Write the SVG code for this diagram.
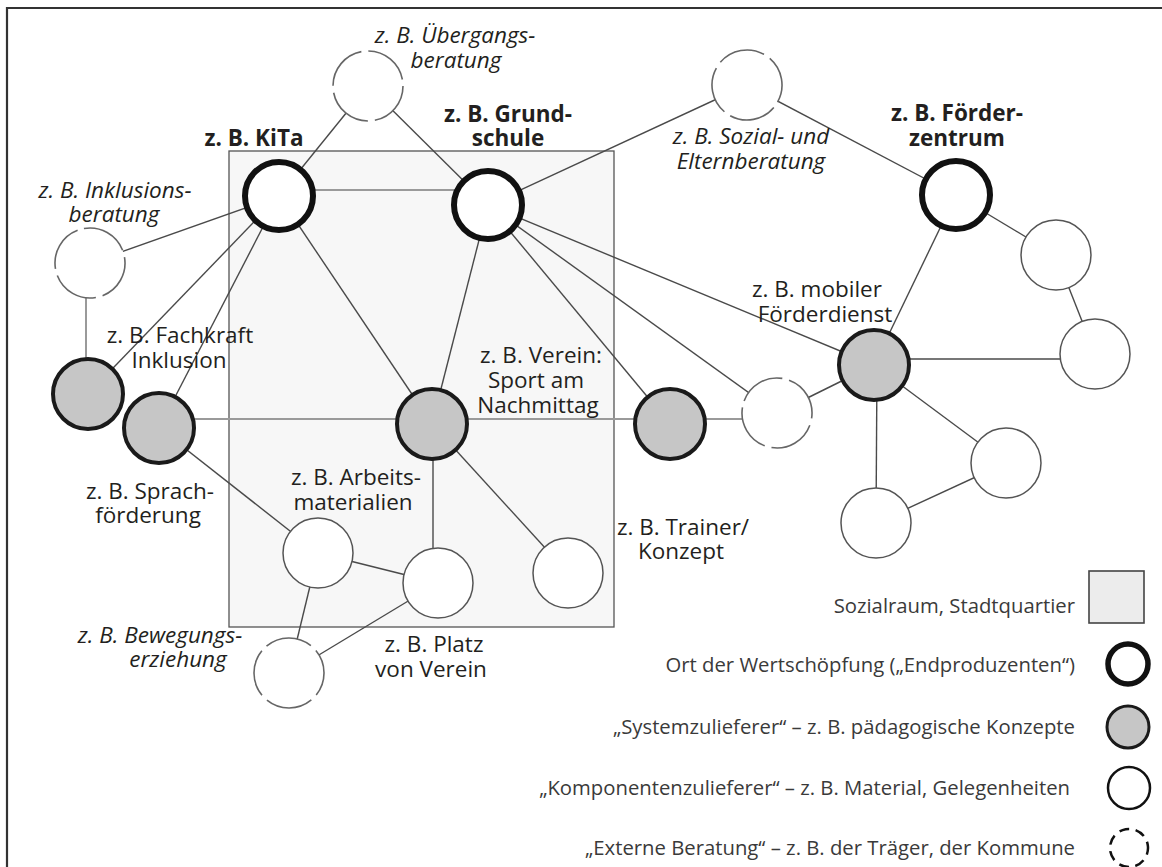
<svg xmlns="http://www.w3.org/2000/svg" width="1162" height="867" viewBox="0 0 1162 867">
  <style>
    text { font-family: "Open Sans", "Noto Sans", "Liberation Sans", sans-serif; fill: #231f20; }
    .lbl { font-size: 22.5px; text-anchor: middle; }
    .it { font-style: italic; }
    .bd { font-weight: bold; }
    .leg { font-size: 20.3px; text-anchor: end; fill: #3a3a3a; }
    .edge { stroke: #4a4a4a; stroke-width: 1.4; fill: none; }
    .edge-lt { stroke: #9a9a9a; stroke-width: 2; fill: none; }
    .endp { fill: #fff; stroke: #111; stroke-width: 6; }
    .sys { fill: #c6c6c6; stroke: #1a1a1a; stroke-width: 4; }
    .comp { fill: #fff; stroke: #555; stroke-width: 1.5; }
    .ext { fill: #fff; stroke: #666; stroke-width: 1.6; stroke-dasharray: 48 7; }
  </style>

  <!-- frame -->
  <path d="M7,867 V8 H1162" fill="none" stroke="#333" stroke-width="2.2"/>

  <!-- social space / district -->
  <rect id="sozialraum" x="229" y="151" width="385" height="476" fill="#f7f7f7" stroke="#555" stroke-width="1.3"/>

  <!-- connectors -->
  <g id="connectors">
    <line class="edge" x1="368" y1="86" x2="279" y2="196"/>
    <line class="edge" x1="368" y1="86" x2="488" y2="205"/>
    <line class="edge-lt" x1="279" y1="190" x2="488" y2="190"/>
    <line class="edge" x1="488" y1="205" x2="747" y2="85"/>
    <line class="edge" x1="747" y1="85" x2="956" y2="195"/>
    <line class="edge" x1="90" y1="263" x2="279" y2="196"/>
    <line class="edge-lt" x1="86" y1="263" x2="86" y2="394"/>
    <line class="edge" x1="88" y1="394" x2="279" y2="196"/>
    <line class="edge" x1="159" y1="428" x2="279" y2="196"/>
    <line class="edge" x1="279" y1="196" x2="432" y2="424"/>
    <line class="edge-lt" x1="159" y1="419" x2="432" y2="419"/>
    <line class="edge" x1="159" y1="428" x2="318" y2="553"/>
    <line class="edge" x1="488" y1="205" x2="432" y2="424"/>
    <line class="edge" x1="488" y1="205" x2="670" y2="424"/>
    <line class="edge" x1="488" y1="205" x2="777" y2="413"/>
    <line class="edge" x1="488" y1="205" x2="874" y2="365"/>
    <line class="edge-lt" x1="432" y1="419" x2="777" y2="419"/>
    <line class="edge" x1="777" y1="413" x2="874" y2="365"/>
    <line class="edge" x1="956" y1="195" x2="874" y2="365"/>
    <line class="edge" x1="956" y1="195" x2="1056" y2="255"/>
    <line class="edge" x1="1056" y1="255" x2="1095" y2="354"/>
    <line class="edge" x1="874" y1="359" x2="1095" y2="359"/>
    <line class="edge" x1="874" y1="365" x2="1006" y2="463"/>
    <line class="edge" x1="877" y1="365" x2="876" y2="523"/>
    <line class="edge" x1="876" y1="523" x2="1006" y2="463"/>
    <line class="edge" x1="433" y1="424" x2="433" y2="583"/>
    <line class="edge" x1="432" y1="424" x2="568" y2="573"/>
    <line class="edge" x1="318" y1="553" x2="438" y2="583"/>
    <line class="edge" x1="318" y1="553" x2="289" y2="673"/>
    <line class="edge" x1="438" y1="583" x2="289" y2="673"/>
  </g>

  <!-- end producers -->
  <g id="kita"><circle class="endp" cx="279" cy="196" r="34"/>
    <text class="lbl bd" x="254" y="146">z. B. KiTa</text></g>
  <g id="grundschule"><circle class="endp" cx="488" cy="205" r="34"/>
    <text class="lbl bd" x="508" y="122">z. B. Grund-</text>
    <text class="lbl bd" x="508" y="146">schule</text></g>
  <g id="foerderzentrum"><circle class="endp" cx="956" cy="195" r="34"/>
    <text class="lbl bd" x="957" y="121">z. B. Förder-</text>
    <text class="lbl bd" x="957" y="146">zentrum</text></g>

  <!-- external counselling -->
  <g id="uebergangsberatung"><circle class="ext" cx="368" cy="86" r="35"/>
    <text class="lbl it" x="455" y="43">z. B. Übergangs-</text>
    <text class="lbl it" x="456" y="68">beratung</text></g>
  <g id="elternberatung"><circle class="ext" cx="747" cy="85" r="35" transform="rotate(40 747 85)"/>
    <text class="lbl it" x="751" y="144">z. B. Sozial- und</text>
    <text class="lbl it" x="751" y="169">Elternberatung</text></g>
  <g id="inklusionsberatung"><circle class="ext" cx="90" cy="263" r="35" transform="rotate(-100 90 263)"/>
    <text class="lbl it" x="115" y="198">z. B. Inklusions-</text>
    <text class="lbl it" x="114" y="222">beratung</text></g>
  <g id="externe-rechts"><circle class="ext" cx="777" cy="413" r="35" transform="rotate(200 777 413)"/></g>
  <g id="bewegungserziehung"><circle class="ext" cx="289" cy="673" r="35" transform="rotate(-130 289 673)"/>
    <text class="lbl it" x="160" y="643">z. B. Bewegungs-</text>
    <text class="lbl it" x="178" y="667">erziehung</text></g>

  <!-- system suppliers -->
  <g id="fachkraft"><circle class="sys" cx="88" cy="394" r="35"/>
    <text class="lbl" x="180" y="343">z. B. Fachkraft</text>
    <text class="lbl" x="179" y="368">Inklusion</text></g>
  <g id="sprachfoerderung"><circle class="sys" cx="159" cy="428" r="35"/>
    <text class="lbl" x="150" y="499">z. B. Sprach-</text>
    <text class="lbl" x="148" y="523">förderung</text></g>
  <g id="verein"><circle class="sys" cx="432" cy="424" r="35"/>
    <text class="lbl" x="541" y="363">z. B. Verein:</text>
    <text class="lbl" x="536" y="388">Sport am</text>
    <text class="lbl" x="538" y="413">Nachmittag</text></g>
  <g id="trainer"><circle class="sys" cx="670" cy="424" r="35"/></g>
  <g id="mobiler-foerderdienst"><circle class="sys" cx="874" cy="365" r="35"/>
    <text class="lbl" x="817" y="297">z. B. mobiler</text>
    <text class="lbl" x="825" y="322">Förderdienst</text></g>

  <!-- component suppliers -->
  <g id="arbeitsmaterialien"><circle class="comp" cx="318" cy="553" r="35"/>
    <text class="lbl" x="356" y="485">z. B. Arbeits-</text>
    <text class="lbl" x="353" y="510">materialien</text></g>
  <g id="platz"><circle class="comp" cx="438" cy="583" r="35"/>
    <text class="lbl" x="434" y="652">z. B. Platz</text>
    <text class="lbl" x="431" y="677">von Verein</text></g>
  <g id="konzept"><circle class="comp" cx="568" cy="573" r="35"/>
    <text class="lbl" x="683" y="535">z. B. Trainer/</text>
    <text class="lbl" x="681" y="559">Konzept</text></g>
  <g id="komp-1"><circle class="comp" cx="1056" cy="255" r="35"/></g>
  <g id="komp-2"><circle class="comp" cx="1095" cy="354" r="35"/></g>
  <g id="komp-3"><circle class="comp" cx="1006" cy="463" r="35"/></g>
  <g id="komp-4"><circle class="comp" cx="876" cy="523" r="35"/></g>

  <!-- legend -->
  <g id="legend">
    <rect x="1089" y="571" width="55" height="52" fill="#ececec" stroke="#444" stroke-width="1.6"/>
    <text class="leg" x="1075" y="613">Sozialraum, Stadtquartier</text>
    <circle cx="1128" cy="664" r="20" fill="#fff" stroke="#111" stroke-width="5.5"/>
    <text class="leg" x="1075" y="672">Ort der Wertschöpfung („Endproduzenten“)</text>
    <circle cx="1128" cy="727" r="21" fill="#c6c6c6" stroke="#1a1a1a" stroke-width="3"/>
    <text class="leg" x="1075" y="734">„Systemzulieferer“ – z. B. pädagogische Konzepte</text>
    <circle cx="1129" cy="788" r="21" fill="#fff" stroke="#111" stroke-width="2.5"/>
    <text class="leg" x="1070" y="795">„Komponentenzulieferer“ – z. B. Material, Gelegenheiten</text>
    <circle cx="1129" cy="848" r="19" fill="#fff" stroke="#111" stroke-width="2.5" stroke-dasharray="10 6.5" transform="rotate(-10 1129 848)"/>
    <text class="leg" x="1075" y="855">„Externe Beratung“ – z. B. der Träger, der Kommune</text>
  </g>
</svg>
